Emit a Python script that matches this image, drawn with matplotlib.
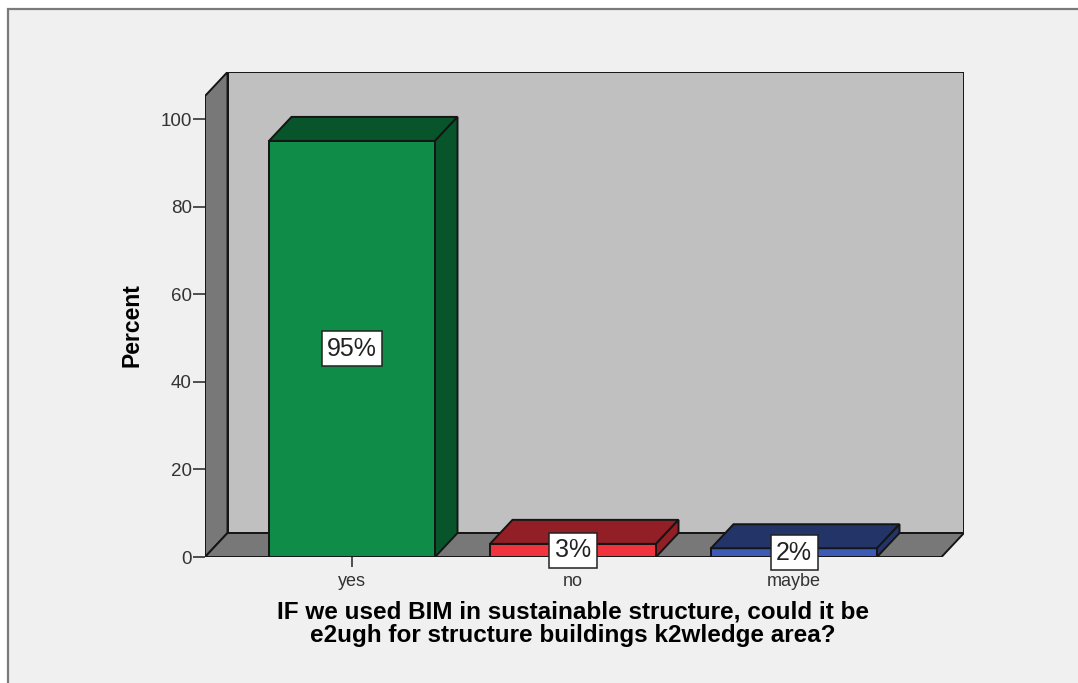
import matplotlib
matplotlib.use("Agg")
import matplotlib.pyplot as plt
from matplotlib.patches import Polygon, Rectangle

categories = ["yes", "no", "maybe"]
percents = [95, 3, 2]
value_labels = ["95%", "3%", "2%"]
front_colors = ["#0f8c48", "#f0333c", "#3b5bb6"]
dark_colors = ["#08552b", "#921f25", "#233468"]
y_ticks = [0, 20, 40, 60, 80, 100]
xlabel_lines = ["IF we used BIM in sustainable structure, could it be",
                "e2ugh for structure buildings k2wledge area?"]
ylabel_text = "Percent"

plt.rcParams['font.family'] = ['Liberation Sans', 'DejaVu Sans']

W, H = 1078, 683
fig = plt.figure(figsize=(W / 100, H / 100), dpi=100)
fig.patch.set_facecolor("white")

# outer panel
panel = Rectangle((8 / W, -0.05), 1.1, 1 - 9 / H + 0.05, transform=fig.transFigure,
                  facecolor="#f0f0f0", edgecolor="#7a7a7a", linewidth=1.6, zorder=-5)
fig.patches.append(panel)

px_left, px_right, px_bottom, px_top = 205, 964, 557, 72
ax = fig.add_axes([px_left / W, 1 - px_bottom / H, (px_right - px_left) / W, (px_bottom - px_top) / H])
ax.set_zorder(2)
ax.set_facecolor("none")

unit_y = (557 - 119) / 100.0      # px per percent
unit_x = 221.0                    # px per category step
x0 = (px_left - 352) / unit_x
x1 = (px_right - 352) / unit_x
ytop = (px_bottom - px_top) / unit_y
dx = 22.5 / unit_x
dy = 24.0 / unit_y
bw = 166 / unit_x

ax.set_xlim(x0, x1)
ax.set_ylim(0, ytop)
for s in ax.spines.values():
    s.set_visible(False)

ec = "#151515"
lw = 1.4
# back wall
ax.add_patch(Polygon([(x0 + dx, dy), (x1, dy), (x1, ytop), (x0 + dx, ytop)],
                     closed=True, facecolor="#c0c0c0", edgecolor=ec, linewidth=lw, zorder=1))
# left wall
ax.add_patch(Polygon([(x0, 0), (x0 + dx, dy), (x0 + dx, ytop), (x0, ytop - dy)],
                     closed=True, facecolor="#787878", edgecolor=ec, linewidth=lw, zorder=1))
# floor
ax.add_patch(Polygon([(x0, 0), (x1 - dx, 0), (x1, dy), (x0 + dx, dy)],
                     closed=True, facecolor="#787878", edgecolor=ec, linewidth=lw, zorder=1))

xs = list(range(len(categories)))
ax.bar(xs, percents, width=bw, color=front_colors, edgecolor=ec, linewidth=lw, zorder=3)
for x, v, dc in zip(xs, percents, dark_colors):
    l, r = x - bw / 2, x + bw / 2
    ax.add_patch(Polygon([(l, v), (r, v), (r + dx, v + dy), (l + dx, v + dy)],
                         closed=True, facecolor=dc, edgecolor=ec, linewidth=lw, zorder=3))
    ax.add_patch(Polygon([(r, 0), (r + dx, dy), (r + dx, v + dy), (r, v)],
                         closed=True, facecolor=dc, edgecolor=ec, linewidth=lw, zorder=3))

for x, v, lab in zip(xs, percents, value_labels):
    ax.text(x, v / 2, lab, ha="center", va="center", fontsize=18, color="#222222", zorder=5,
            bbox=dict(boxstyle="square,pad=0.22", facecolor="white", edgecolor="#222222", linewidth=1.1))

ax.set_yticks(y_ticks)
ax.set_yticklabels([str(t) for t in y_ticks])
ax.set_xticks(xs)
ax.set_xticklabels(categories)
ax.tick_params(axis="y", length=8.5, width=1.2, color="#333333", labelsize=13.5, labelcolor="#333333", pad=1)
ax.tick_params(axis="x", length=7.5, width=1.2, color="#333333", labelsize=13, labelcolor="#333333", pad=4)

fig.text(132 / W, 1 - 325 / H, ylabel_text, rotation=90, ha="center", va="center",
         fontsize=16.5, fontweight="bold", color="black")
for i, line in enumerate(xlabel_lines):
    fig.text(573 / W, 1 - (612 + 23.5 * i) / H, line, ha="center", va="center",
             fontsize=17.5, fontweight="bold", color="black")

fig.savefig("out.png", dpi=100, facecolor=fig.get_facecolor())
